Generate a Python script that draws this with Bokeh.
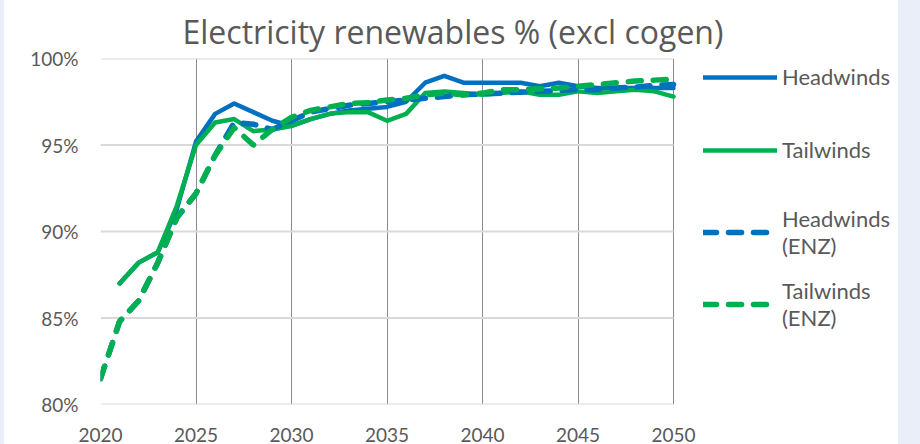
import numpy as np
from bokeh.plotting import figure
from bokeh.models import ColumnDataSource, Legend, LegendItem, FixedTicker, Title, Spacer
from bokeh.layouts import row
from bokeh.embed import file_html
from bokeh.resources import INLINE

nan = np.nan

years = list(range(2020, 2051))
headwinds = [nan, 87.0, 88.2, 88.8, 91.3, 95.2, 96.8, 97.4, 96.9, 96.4, 96.1,
             96.5, 96.8, 97.0, 97.1, 97.2, 97.5, 98.6, 99.0, 98.6, 98.6,
             98.6, 98.6, 98.4, 98.6, 98.4, 98.3, 98.3, 98.3, 98.3, 98.3]
tailwinds = [nan, 87.0, 88.2, 88.8, 91.5, 95.0, 96.3, 96.5, 95.8, 95.9, 96.1,
             96.5, 96.8, 96.9, 96.9, 96.4, 96.8, 98.0, 98.1, 98.0, 97.9,
             98.0, 98.1, 97.9, 97.9, 98.1, 98.0, 98.1, 98.2, 98.1, 97.8]
headwinds_enz = [81.5, 84.8, 86.0, 88.2, 90.8, 92.2, 94.4, 96.3, 96.2, 95.9, 96.4,
                 96.9, 97.1, 97.3, 97.4, 97.5, 97.6, 97.7, 97.8, 97.9, 97.95,
                 98.0, 98.05, 98.1, 98.15, 98.2, 98.2, 98.3, 98.35, 98.45, 98.5]
tailwinds_enz = [81.5, 84.8, 86.0, 88.2, 90.8, 92.2, 94.4, 96.0, 95.0, 95.9, 96.6,
                 97.0, 97.2, 97.4, 97.45, 97.6, 97.7, 97.9, 98.0, 97.9, 98.0,
                 98.2, 98.2, 98.25, 98.3, 98.4, 98.5, 98.6, 98.7, 98.75, 98.8]

x_ticks = [2020, 2025, 2030, 2035, 2040, 2045, 2050]
y_ticks = [80, 85, 90, 95, 100]
y_tick_labels = ["80%", "85%", "90%", "95%", "100%"]
series_labels = ["Headwinds", "Tailwinds", "Headwinds\n(ENZ)", "Tailwinds\n(ENZ)"]
title_text = "Electricity renewables % (excl cogen)"

BLUE = "#0070C0"
GREEN = "#00B050"
TXT = "#595959"
FONT = "Lato"
PAGE_BG = "#e9eef8"

# layout: plot area 573 px for 2020-2050, extended to the right to host the legend
LEFT_STRIP = 4
FRAME_LEFT, FRAME_W, FIG_W = 96, 573, 894
x_end = x_ticks[0] + (x_ticks[-1] - x_ticks[0]) * (FIG_W - FRAME_LEFT) / FRAME_W

src = ColumnDataSource(dict(x=years, hw=headwinds, tw=tailwinds,
                            hwe=headwinds_enz, twe=tailwinds_enz))

p = figure(width=FIG_W, height=444, x_range=(x_ticks[0], x_end), y_range=(80, 100),
           output_backend="svg", toolbar_location=None,
           min_border_left=FRAME_LEFT, min_border_right=0, min_border_top=58,
           min_border_bottom=40)
p.background_fill_color = "white"
p.border_fill_color = "white"
p.outline_line_color = None

p.title = Title(text=title_text, align="left", offset=82, standoff=11,
                text_font="Open Sans", text_font_size="32px",
                text_font_style="normal", text_color=TXT)

for ax in (p.xaxis[0], p.yaxis[0]):
    ax.axis_line_color = None
    ax.major_tick_out = 0
    ax.major_tick_in = 0
    ax.minor_tick_out = 0
    ax.minor_tick_in = 0
    ax.major_label_text_font = FONT
    ax.major_label_text_font_size = "19px"
    ax.major_label_text_color = TXT

p.xaxis.ticker = FixedTicker(ticks=x_ticks)
p.yaxis.ticker = FixedTicker(ticks=y_ticks)
p.yaxis.major_label_overrides = {t: l for t, l in zip(y_ticks, y_tick_labels)}
p.yaxis.major_label_standoff = 22
p.xaxis.major_label_standoff = 23

p.xgrid.ticker = FixedTicker(ticks=x_ticks)
p.xgrid.grid_line_color = "#8a8a8a"
p.xgrid.grid_line_width = 1
p.ygrid.visible = False
# horizontal gridlines limited to the 2020-2050 plot area
p.segment(x0=x_ticks[0], x1=x_ticks[-1], y0=y_ticks, y1=y_ticks,
          line_color="#d9d9d9", line_width=2)

r1 = p.line("x", "hw", source=src, color=BLUE, line_width=4.5, line_join="round", line_cap="round")
r2 = p.line("x", "tw", source=src, color=GREEN, line_width=4.5, line_join="round", line_cap="round")
r3 = p.line("x", "hwe", source=src, color=BLUE, line_width=5.5, line_dash="13 12",
            line_join="round", line_cap="round")
r4 = p.line("x", "twe", source=src, color=GREEN, line_width=5.5, line_dash="13 12",
            line_join="round", line_cap="round")


def make_legend(labels, renderers, location, spacing):
    lg = Legend(items=[LegendItem(label=l, renderers=[r]) for l, r in zip(labels, renderers)],
                location=location)
    lg.glyph_width = 74
    lg.glyph_height = 20
    lg.label_text_font = FONT
    lg.label_text_font_size = "22px"
    lg.label_text_color = TXT
    lg.label_standoff = 5
    lg.spacing = spacing
    lg.padding = 0
    lg.margin = 0
    lg.border_line_color = None
    lg.background_fill_alpha = 0
    return lg


p.add_layout(make_legend(series_labels[:2], [r1, r2], (603, 241), 46))
p.add_layout(make_legend(series_labels[2:], [r3, r4], (603, 73), 18))

left_strip = Spacer(width=LEFT_STRIP, height=444, styles={"background-color": PAGE_BG})
right_strip = Spacer(width=22, height=444, styles={"background-color": PAGE_BG})
layout = row(left_strip, p, right_strip)

open("out.html", "w").write(file_html(layout, INLINE))
